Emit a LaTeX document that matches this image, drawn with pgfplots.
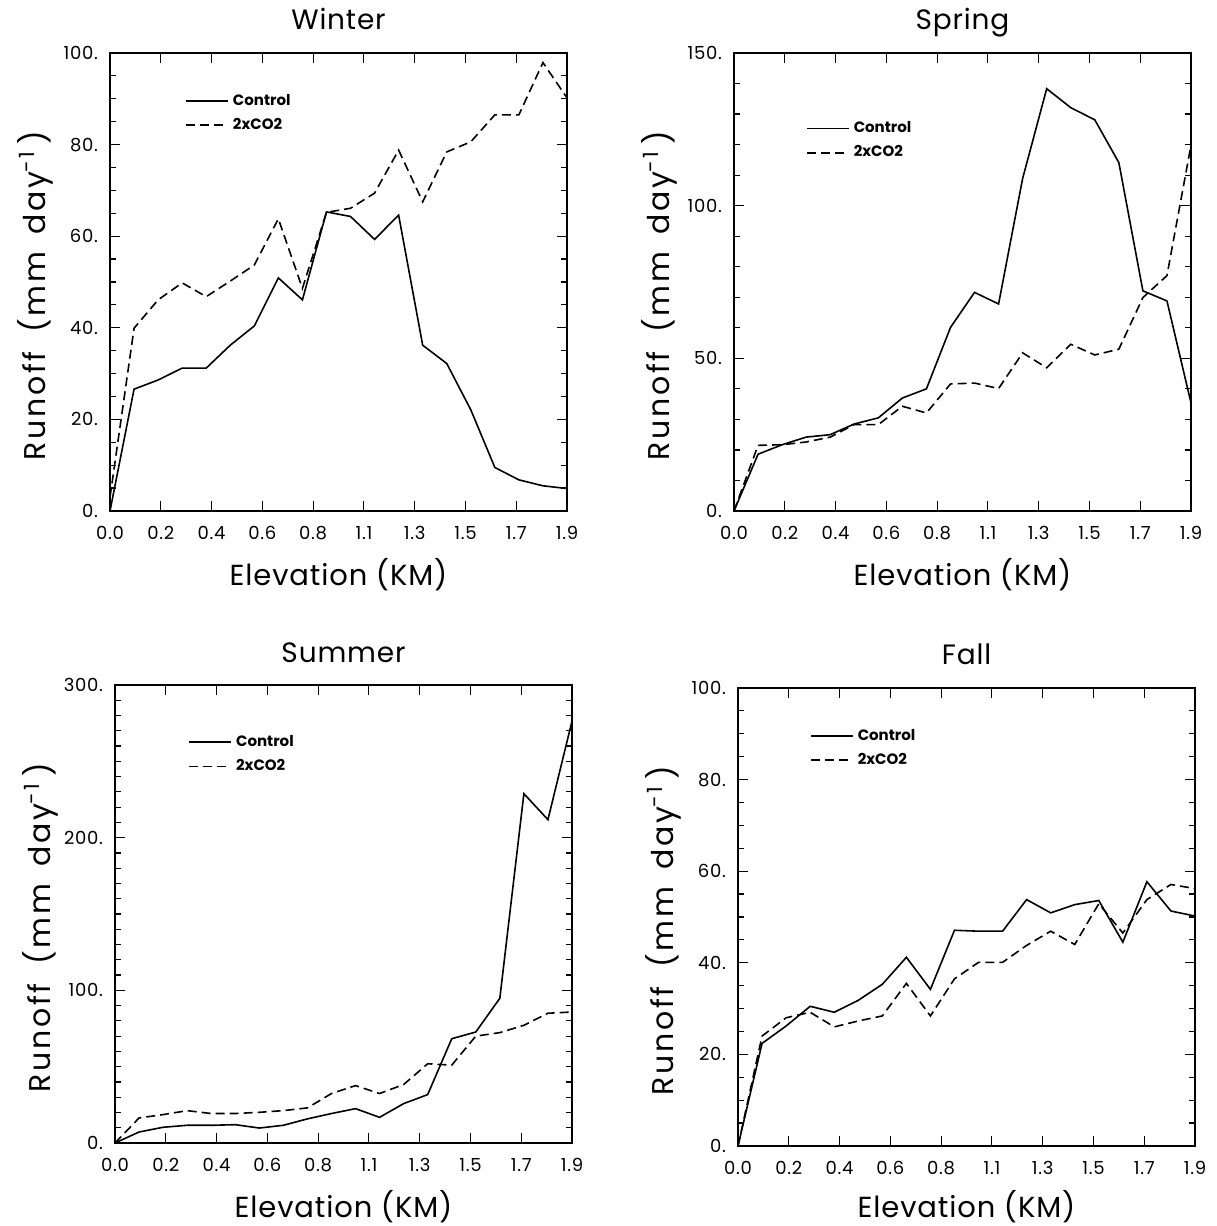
\documentclass[border=0pt]{standalone}
\usepackage{fontspec}
\setmainfont{Poppins}
\usepackage{pgfplots}
\pgfplotsset{compat=1.18}

% 1 px of the reference = 0.5pt
\pgfplotsset{
  runoff/.style={
    scale only axis, width=228.5pt, height=229pt,
    xmin=0, xmax=1.9, ymin=0,
    xtick={0,0.21111,0.42222,0.63333,0.84444,1.05556,1.26667,1.47778,1.68889,1.9},
    xticklabels={0.0,0.2,0.4,0.6,0.8,1.1,1.3,1.5,1.7,1.9},
    tick align=inside, major tick length=5pt, minor tick length=3pt,
    axis line style={line width=1pt},
    every tick/.style={black, line width=0.6pt},
    ticklabel style={font=\fontsize{9}{10}\selectfont\addfontfeature{LetterSpace=4}},
    xticklabel style={yshift=-4pt},
    yticklabel style={xshift=-2.5pt},
    xlabel={Elevation (KM)},
    ylabel={Runoff\hspace{4pt} (mm\hspace{3pt} day\textsuperscript{-1}\hspace{3pt})},
    every axis x label/.style={at={(axis description cs:0.5,-0.14)}, anchor=center, font=\fontsize{14.5}{16}\selectfont\addfontfeature{LetterSpace=3}},
    every axis y label/.style={at={(axis description cs:-0.164,0.47)}, rotate=90, anchor=center, font=\fontsize{15}{16}\selectfont\addfontfeature{LetterSpace=9}},
    every axis title/.style={at={(axis description cs:0.5,1)}, anchor=base, yshift=11.5pt, font=\fontsize{14}{15}\selectfont\addfontfeature{LetterSpace=3}},
    legend style={draw=none, fill=none, anchor=north west, font=\bfseries\fontsize{7.5}{9}\selectfont, row sep=1pt, inner sep=0pt},
    legend image code/.code={\path (0pt,0pt) -- (21pt,0pt); \draw[#1] (0pt,0pt) -- (16.5pt,0pt);},
    legend cell align=left,
  },
  ctrl/.style={black, line width=0.8pt, mark=none},
  co2/.style={black, line width=0.8pt, mark=none, dash pattern=on 4.5pt off 2.5pt},
}

\begin{document}
\begin{tikzpicture}
\useasboundingbox (0,0) rectangle (608pt,613pt);

% Winter
\begin{axis}[runoff, at={(55pt,357.5pt)}, title={Winter},
  ymax=100, ytick={0,20,40,60,80,100}, yticklabels={0.,20.,40.,60.,80.,100.}, minor y tick num=3,
  legend style={at={(axis description cs:0.164,0.92)}}]
\addplot[ctrl] coordinates {(0.0,0) (0.1,26.6) (0.2,28.6) (0.3,31.2) (0.4,31.2) (0.5,36.2) (0.6,40.4) (0.7,50.9) (0.8,46.1) (0.9,65.3) (1.0,64.3) (1.1,59.3) (1.2,64.6) (1.3,36.2) (1.4,32.2) (1.5,22.1) (1.6,9.5) (1.7,6.8) (1.8,5.5) (1.9,4.9)};
\addlegendentry{Control}
\addplot[co2] coordinates {(0.0,3) (0.1,39.9) (0.2,46.1) (0.3,49.8) (0.4,46.8) (0.5,50.2) (0.6,53.7) (0.7,63.8) (0.8,48.6) (0.9,65.2) (1.0,66.1) (1.1,69.4) (1.2,78.8) (1.3,67.5) (1.4,78.4) (1.5,80.6) (1.6,86.5) (1.7,86.5) (1.8,97.9) (1.9,90.2)};
\addlegendentry{2xCO2}
\end{axis}

% Spring
\begin{axis}[runoff, at={(367pt,357.5pt)}, title={Spring},
  ymax=150, ytick={0,50,100,150}, yticklabels={0.,50.,100.,150.}, minor y tick num=4,
  legend style={at={(axis description cs:0.157,0.86)}}]
\addplot[ctrl] coordinates {(0.0,0) (0.1,18.6) (0.2,21.7) (0.3,24.2) (0.4,25.0) (0.5,28.5) (0.6,30.5) (0.7,37.0) (0.8,40.0) (0.9,60.1) (1.0,71.6) (1.1,67.8) (1.2,108.9) (1.3,138.3) (1.4,132.1) (1.5,128.1) (1.6,114.1) (1.7,72.1) (1.8,68.8) (1.9,35.4)};
\addlegendentry{Control}
\addplot[co2] coordinates {(0.0,0) (0.1,21.5) (0.2,21.7) (0.3,22.6) (0.4,24.2) (0.5,28.3) (0.6,28.3) (0.7,34.3) (0.8,32.1) (0.9,41.6) (1.0,41.9) (1.1,40.1) (1.2,51.8) (1.3,46.9) (1.4,54.6) (1.5,51.1) (1.6,53.0) (1.7,69.9) (1.8,77.1) (1.9,119.8)};
\addlegendentry{2xCO2}
\end{axis}

% Summer
\begin{axis}[runoff, at={(57.5pt,41.5pt)}, title={Summer},
  ymax=300, ytick={0,100,200,300}, yticklabels={0.,100.,200.,300.}, minor y tick num=9,
  legend style={at={(axis description cs:0.16,0.90)}}]
\addplot[ctrl] coordinates {(0.0,0) (0.1,7.2) (0.2,10.3) (0.3,11.6) (0.4,11.6) (0.5,12.0) (0.6,9.8) (0.7,11.6) (0.8,15.8) (0.9,19.3) (1.0,22.5) (1.1,16.8) (1.2,25.8) (1.3,31.7) (1.4,68.3) (1.5,72.7) (1.6,94.8) (1.7,228.8) (1.8,211.8) (1.9,276.3)};
\addlegendentry{Control}
\addplot[co2] coordinates {(0.0,0) (0.1,16.4) (0.2,18.6) (0.3,21.2) (0.4,19.3) (0.5,19.3) (0.6,20.1) (0.7,21.2) (0.8,23.0) (0.9,32.4) (1.0,37.6) (1.1,32.4) (1.2,38.3) (1.3,51.9) (1.4,51.0) (1.5,70.0) (1.6,72.3) (1.7,77.1) (1.8,85.0) (1.9,85.8)};
\addlegendentry{2xCO2}
\end{axis}

% Fall
\begin{axis}[runoff, at={(369pt,40pt)}, title={Fall},
  ymax=100, ytick={0,20,40,60,80,100}, yticklabels={0.,20.,40.,60.,80.,100.}, minor y tick num=3,
  every axis x label/.append style={at={(axis description cs:0.5,-0.132)}},
  legend style={at={(axis description cs:0.157,0.92)}}]
\addplot[ctrl] coordinates {(0.0,0) (0.1,22.4) (0.2,26.2) (0.3,30.5) (0.4,29.2) (0.5,31.8) (0.6,35.3) (0.7,41.2) (0.8,34.2) (0.9,47.1) (1.0,46.9) (1.1,46.9) (1.2,53.8) (1.3,50.9) (1.4,52.7) (1.5,53.6) (1.6,44.5) (1.7,57.7) (1.8,51.3) (1.9,50.2)};
\addlegendentry{Control}
\addplot[co2] coordinates {(0.0,0) (0.1,24.0) (0.2,28.0) (0.3,29.2) (0.4,26.0) (0.5,27.3) (0.6,28.4) (0.7,35.5) (0.8,28.4) (0.9,36.5) (1.0,40.1) (1.1,40.1) (1.2,43.8) (1.3,46.9) (1.4,44.0) (1.5,52.9) (1.6,46.5) (1.7,53.8) (1.8,57.1) (1.9,56.2)};
\addlegendentry{2xCO2}
\end{axis}
\end{tikzpicture}
\end{document}
